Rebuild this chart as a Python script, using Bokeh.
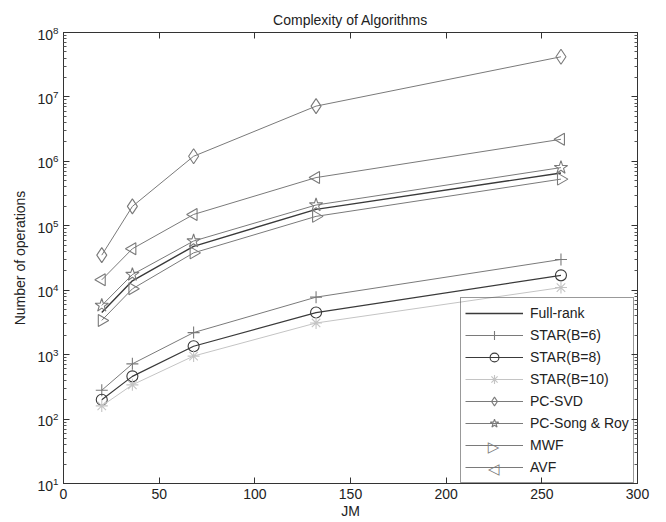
import math
from bokeh.plotting import figure
from bokeh.models import (FixedTicker, LinearAxis, LogAxis, Range1d, Legend,
                          Label)
from bokeh.embed import file_html
from bokeh.resources import INLINE

jm = [20, 36, 68, 132, 260]
full_rank = [4.5e3, 1.4e4, 4.8e4, 1.8e5, 6.6e5]
star6 = [280, 720, 2200, 7800, 3.0e4]
star8 = [200, 460, 1350, 4500, 1.7e4]
star10 = [160, 340, 950, 3100, 1.1e4]
pc_svd = [3.5e4, 2.0e5, 1.2e6, 7.2e6, 4.2e7]
pc_song = [5.8e3, 1.75e4, 5.8e4, 2.1e5, 8.0e5]
mwf = [3.4e3, 1.05e4, 3.8e4, 1.4e5, 5.3e5]
avf = [1.45e4, 4.4e4, 1.5e5, 5.6e5, 2.2e6]

x_ticks = [0, 50, 100, 150, 200, 250, 300]
y_ticks = [10 ** k for k in range(1, 9)]
y_minor = [m * 10 ** k for k in range(1, 8) for m in range(2, 10)]

FONT = "Liberation Sans"
DARK = "#3a3a3a"
MID = "#7a7a7a"
LIGHT = "#c4c4c4"

FRAME_W = 574
LEG_LEFT = 397
LEG_PAD = 4
GLYPH_W = 58
ROW_H = 22
ROW_GAP = 0

p = figure(width=658, height=522, y_axis_type="log",
           x_range=Range1d(0, 300), y_range=Range1d(10, 1e8),
           output_backend="svg", toolbar_location=None,
           min_border_left=63, min_border_right=21, min_border_top=32,
           min_border_bottom=39)

p.title.text = "Complexity of Algorithms"
p.title.align = "center"
p.title.vertical_align = "top"
p.title.text_font = FONT
p.title.text_font_style = "normal"
p.title.text_font_size = "14px"
p.title.text_color = "#222222"
p.title.offset = 0
p.title.standoff = 6

p.xgrid.visible = False
p.ygrid.visible = False
p.outline_line_color = "#333333"
p.outline_line_width = 1
p.background_fill_color = "white"
p.border_fill_color = "white"

def style_axis(ax, labels=True):
    ax.major_tick_in = 6
    ax.major_tick_out = 0
    ax.minor_tick_in = 3
    ax.minor_tick_out = 0
    ax.axis_line_color = "#333333"
    ax.major_tick_line_color = "#333333"
    ax.minor_tick_line_color = "#555555"
    ax.major_label_text_font = FONT
    ax.major_label_text_font_size = "14px"
    ax.major_label_text_color = "#222222"
    ax.axis_label_text_font = FONT
    ax.axis_label_text_font_size = "14px"
    ax.axis_label_text_font_style = "normal"
    ax.axis_label_text_color = "#222222"
    if not labels:
        ax.major_label_text_alpha = 0
        ax.major_label_text_font_size = "1px"

p.xaxis.ticker = FixedTicker(ticks=x_ticks, minor_ticks=[])
p.yaxis.ticker = FixedTicker(ticks=y_ticks, minor_ticks=y_minor)
p.xaxis.axis_label = "JM"
p.yaxis.axis_label = "Number of operations"
style_axis(p.xaxis[0])
style_axis(p.yaxis[0])
p.xaxis.major_label_standoff = 5
p.xaxis.axis_label_standoff = 1
p.yaxis.major_label_standoff = 5
p.yaxis.axis_label_standoff = 6

top = LinearAxis(ticker=FixedTicker(ticks=x_ticks, minor_ticks=[]))
style_axis(top, labels=False)
p.add_layout(top, "above")
right = LogAxis(ticker=FixedTicker(ticks=y_ticks, minor_ticks=y_minor))
style_axis(right, labels=False)
p.add_layout(right, "right")

series = [
    ("Full-rank", full_rank, DARK, None, 1.4),
    ("STAR(B=6)", star6, MID, "cross", 1.0),
    ("STAR(B=8)", star8, DARK, "circle", 1.2),
    ("STAR(B=10)", star10, LIGHT, "asterisk", 1.0),
    ("PC-SVD", pc_svd, MID, "diamond", 1.0),
    ("PC-Song & Roy", pc_song, MID, "star", 1.0),
    ("MWF", mwf, MID, "triangle_r", 1.0),
    ("AVF", avf, MID, "triangle_l", 1.0),
]

items = []
overlays = []
for idx, (name, ys, col, marker, lw) in enumerate(series):
    rs = [p.line(jm, ys, line_color=col, line_width=lw)]
    if marker is not None:
        angle = 0.0
        m = marker
        size = 12
        if marker == "triangle_r":
            m, angle = "triangle", -math.pi / 2
        elif marker == "triangle_l":
            m, angle = "triangle", math.pi / 2
        elif marker == "circle":
            size = 11
        elif marker == "diamond":
            size = 15
        elif marker == "star":
            size = 14
        sc = p.scatter(jm, ys, marker=m, size=size, angle=angle,
                       line_color=col, fill_color=None, line_width=1.1)
        if marker in ("triangle_r", "triangle_l"):
            # legend glyphs ignore marker angle: draw the rotated symbol on top
            overlays.append((idx, "\u25B7" if marker == "triangle_r" else "\u25C1", col))
        else:
            rs.append(sc)
    items.append((name, rs))

legend = Legend(items=items, location=(LEG_LEFT, 0))
legend.margin = 0
legend.padding = LEG_PAD
legend.spacing = ROW_GAP
legend.label_height = ROW_H
legend.glyph_height = ROW_H
legend.glyph_width = GLYPH_W
legend.label_standoff = 7
legend.label_text_font = FONT
legend.label_text_font_size = "14px"
legend.label_text_color = "#222222"
legend.border_line_color = "#333333"
legend.border_line_width = 1
legend.background_fill_color = None
p.add_layout(legend, "center")

n = len(series)
for idx, sym, col in overlays:
    cy = LEG_PAD + (n - 1 - idx) * (ROW_H + ROW_GAP) + ROW_H / 2
    cx = LEG_LEFT + LEG_PAD + GLYPH_W / 2 - FRAME_W
    p.add_layout(Label(x=300, y=10, x_offset=cx, y_offset=cy, text=sym,
                       text_align="center", text_baseline="middle",
                       text_font="DejaVu Sans", text_font_size="15px",
                       text_color=col, level="overlay"))

open("out.html", "w").write(file_html(p, INLINE))
